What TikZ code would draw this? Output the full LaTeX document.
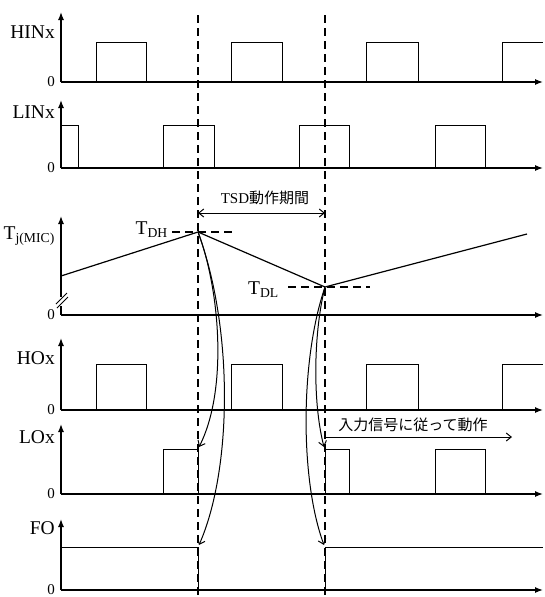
\documentclass[tikz,border=0pt]{standalone}
\usepackage{fontspec}
\setmainfont{Liberation Serif}
\newfontfamily\jpfont{Noto Sans CJK JP}
\usepackage{tikz}
\usetikzlibrary{arrows.meta}

\tikzset{
  axis/.style={line width=1.3pt, -{Latex[length=8pt,width=6pt]}},
  sig/.style={line width=1pt},
  guide/.style={line width=1.3pt, dash pattern=on 8pt off 5pt},
  cause/.style={line width=1pt, -{Straight Barb[length=5pt,width=8pt]}},
  lbl/.style={font=\fontsize{19.5}{19.5}\selectfont, anchor=east, inner sep=0pt},
  zero/.style={font=\fontsize{15}{15}\selectfont, anchor=east, inner sep=0pt},
  note/.style={font=\fontsize{15}{15}\selectfont, inner sep=0pt}
}

\begin{document}
\begin{tikzpicture}[x=1pt, y=-1pt, >=Latex]
  \useasboundingbox (0,0) rectangle (544,597);

  % axes: zero level / arrow top / label height / name
  \foreach \yz/\yt/\yl/\name in {82/12/32/HINx, 168/100/112/LINx, 410/338/358/HOx, 494/424/437/LOx, 590/519/528/FO}{
    \draw[axis] (61,\yz) -- (543,\yz);
    \draw[axis] (61,\yz) -- (61,\yt);
    \node[lbl] (lab-\name) at (55,\yl) {\name};
    \node[zero] (zero-\name) at (55,\yz) {0};
  }

  % junction temperature axis with break
  \draw[axis] (61,315) -- (543,315);
  \draw[line width=1.3pt] (61,315) -- (61,306);
  \draw[axis] (61,297) -- (61,216);
  \draw[line width=1pt] (56,304) -- (67,293) (57,308) -- (68,297);
  \node[lbl] (lab-tj) at (55,236) {T\textsubscript{j(MIC)}};
  \node[zero] (zero-tj) at (55,315) {0};

  % inputs
  \foreach \a/\b in {96/146, 231/282, 366/418}
    \draw[sig] (\a,82) |- (\b,42) -- (\b,82);
  \draw[sig] (502,82) |- (543,42);
  \draw[sig] (61,125) -- (78,125) -- (78,168);
  \foreach \a/\b in {163/214, 299/349, 435/485}
    \draw[sig] (\a,168) |- (\b,125) -- (\b,168);

  % outputs
  \foreach \a/\b in {96/146, 231/282, 366/418}
    \draw[sig] (\a,410) |- (\b,364) -- (\b,410);
  \draw[sig] (502,410) |- (543,364);
  \foreach \a/\b in {163/198, 325/349, 435/485}
    \draw[sig] (\a,494) |- (\b,449) -- (\b,494);
  \draw[sig] (61,547) -- (198,547) -- (198,590) -- (325,590) -- (325,547) -- (543,547);
  \draw[line width=2pt] (198,590) -- (325,590);

  % temperature
  \coordinate (dh) at (198,232);
  \coordinate (dl) at (325,287);
  \draw[line width=1.2pt] (61,276) -- (dh) -- (dl) -- (527,234);
  \draw[guide] (172,232) -- (232,232);
  \draw[guide] (288,287) -- (370,287);
  \node[lbl] (tdh) at (168,230) {T\textsubscript{DH}};
  \node[lbl] (tdl) at (279,290) {T\textsubscript{DL}};

  % TSD period
  \draw[guide] (198,15) -- (198,597);
  \draw[guide] (325,15) -- (325,597);
  \coordinate (tsd-a) at (198,213);
  \coordinate (tsd-b) at (325,213);
  \draw[line width=1pt, {Straight Barb[length=5pt,width=8pt]}-{Straight Barb[length=5pt,width=8pt]}] (tsd-a) -- (tsd-b);
  \node[note] (tsd) at (265,198) {TSD{\jpfont 動作期間}};

  % back to normal operation
  \coordinate (run-a) at (325,437);
  \coordinate (run-b) at (512,437);
  \draw[cause] (run-a) -- (run-b);
  \node[note] (run) at (413,425) {\jpfont 入力信号に従って動作};

  % causes
  \coordinate (lo-a) at (199,447);
  \coordinate (fo-a) at (199,545);
  \coordinate (lo-b) at (324,447);
  \coordinate (fo-b) at (324,545);
  \draw[cause] (dh) .. controls (220,290) and (228,390) .. (lo-a);
  \draw[cause] (dh) .. controls (234,330) and (232,470) .. (fo-a);
  \draw[cause] (dl) .. controls (314,330) and (312,400) .. (lo-b);
  \draw[cause] (dl) .. controls (300,360) and (300,480) .. (fo-b);
\end{tikzpicture}
\end{document}
